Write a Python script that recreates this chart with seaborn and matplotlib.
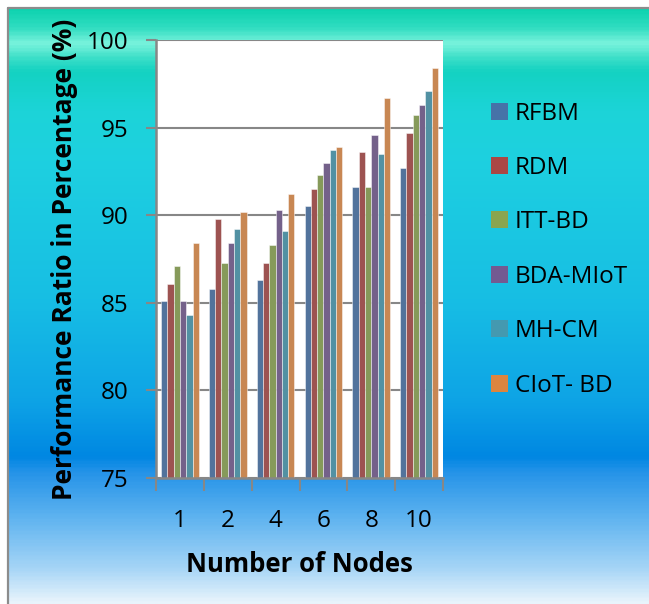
import numpy as np
import pandas as pd
import matplotlib
matplotlib.use("Agg")
import matplotlib.pyplot as plt
from matplotlib.colors import LinearSegmentedColormap
from matplotlib.patches import Patch
import seaborn as sns

# ---- data ----
nodes = ["1", "2", "4", "6", "8", "10"]
methods = ["RFBM", "RDM", "ITT-BD", "BDA-MIoT", "MH-CM", "CIoT- BD"]
rfbm = [85.1, 85.8, 86.3, 90.5, 91.6, 92.7]
rdm = [86.1, 89.8, 87.3, 91.5, 93.6, 94.7]
itt_bd = [87.1, 87.3, 88.3, 92.3, 91.6, 95.7]
bda_miot = [85.1, 88.4, 90.3, 93.0, 94.6, 96.3]
mh_cm = [84.3, 89.2, 89.1, 93.7, 93.5, 97.1]
ciot_bd = [88.4, 90.2, 91.2, 93.9, 96.7, 98.4]
series = [rfbm, rdm, itt_bd, bda_miot, mh_cm, ciot_bd]
colors = ["#4672A8", "#AA4744", "#8AA54F", "#735A91", "#4499B0", "#DC853F"]
y_ticks = [75, 80, 85, 90, 95, 100]

df = pd.DataFrame(
    [(n, m, v) for m, vals in zip(methods, series) for n, v in zip(nodes, vals)],
    columns=["nodes", "method", "value"],
)

sns.set_theme(style="white")
plt.rcParams["font.family"] = ["Open Sans", "DejaVu Sans"]
plt.rcParams["text.color"] = "black"
plt.rcParams["axes.labelcolor"] = "black"

W, H = 649, 604
fig = plt.figure(figsize=(W / 100, H / 100), dpi=100)
fig.patch.set_facecolor("white")

# ---- gradient backdrop inside a framed panel ----
stops = [
    (8, "#0fd3b0"), (25, "#2edcc0"), (42, "#7af3dd"), (55, "#40e0c9"),
    (70, "#14d2c2"), (110, "#1cd4d8"), (160, "#1ed0e0"), (300, "#17bee4"),
    (400, "#0ea4e6"), (458, "#0087e2"), (472, "#2392e8"), (520, "#60b4f0"),
    (570, "#a6d5f6"), (604, "#e8f4fc"),
]
y0, y1 = stops[0][0], stops[-1][0]
cmap = LinearSegmentedColormap.from_list(
    "panel", [((p - y0) / (y1 - y0), c) for p, c in stops]
)
bg = fig.add_axes([8 / W, 0, 1 - 8 / W, (H - 8) / H], zorder=0)
bg.imshow(np.linspace(0, 1, 400).reshape(-1, 1), aspect="auto", cmap=cmap,
          extent=[0, 1, 0, 1], origin="upper")
bg.set_xlim(0, 1)
bg.set_ylim(0, 1)
bg.axis("off")
fig.add_artist(plt.Line2D([8 / W, 8 / W], [0, 1 - 8 / H], color="#8c8c8c", lw=1.6))
fig.add_artist(plt.Line2D([8 / W, 1], [1 - 8 / H, 1 - 8 / H], color="#8c8c8c", lw=1.6))

# ---- bar chart ----
left, right, top, bottom = 156, 443, 40, 478
ax = fig.add_axes([left / W, 1 - bottom / H, (right - left) / W, (bottom - top) / H], zorder=1)
ax.set_facecolor("white")
sns.barplot(data=df, x="nodes", y="value", hue="method", order=nodes,
            hue_order=methods, palette=colors, width=0.79, ax=ax,
            edgecolor=(1, 1, 1, 0.55), linewidth=0.6, legend=False, zorder=2)
ax.set_ylim(75, 100)
ax.set_xlim(-0.5, len(nodes) - 0.5)
ax.set_yticks(y_ticks)
ax.yaxis.grid(True, color="#878787", linewidth=1.5, zorder=1)
ax.set_axisbelow(True)

for s in ["top", "right"]:
    ax.spines[s].set_visible(False)
for s in ["left", "bottom"]:
    ax.spines[s].set_color("#878787")
    ax.spines[s].set_linewidth(1.8)

ax.tick_params(axis="y", which="major", length=7, width=1.5, color="#878787",
               labelcolor="black", direction="out", left=True, labelsize=17.5, pad=13)
ax.set_xticks(np.arange(len(nodes)))
ax.set_xticklabels(nodes)
ax.tick_params(axis="x", which="major", length=0, labelsize=17.5, pad=22,
               labelcolor="black")
ax.set_xticks(np.arange(len(nodes) + 1) - 0.5, minor=True)
ax.tick_params(axis="x", which="minor", length=9, width=1.5, color="#878787",
               direction="out", bottom=True)

ax.set_xlabel("Number of Nodes", fontsize=18.5, fontweight="bold", labelpad=13)
ax.set_ylabel("Performance Ratio in Percentage (%)", fontsize=19,
              fontweight="bold", labelpad=6)

handles = [Patch(facecolor=c, edgecolor="none") for c in colors]
ax.legend(handles, methods, loc="upper left", bbox_to_anchor=(481 / W, 1 - 92 / H),
          bbox_transform=fig.transFigure, frameon=False, fontsize=17.5,
          handlelength=0.7, handleheight=0.7, handletextpad=0.3,
          labelspacing=1.25, borderaxespad=0)

fig.savefig("out.png", dpi=100)
